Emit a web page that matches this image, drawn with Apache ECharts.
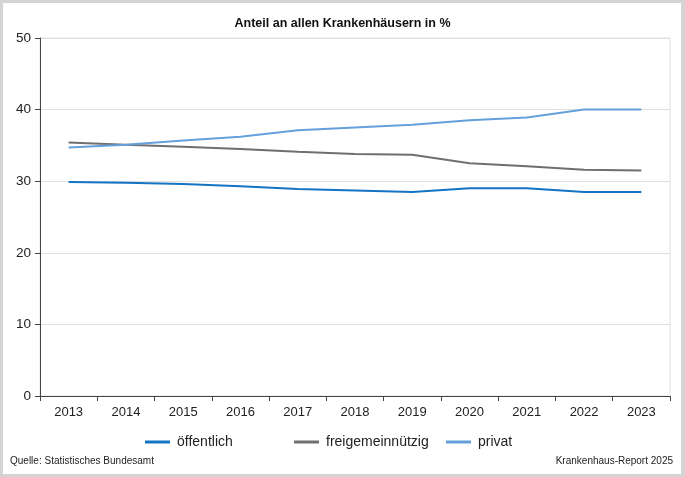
<!DOCTYPE html>
<html><head><meta charset="utf-8">
<script src="https://cdn.jsdelivr.net/npm/echarts@6/dist/echarts.min.js"></script>
<style>
html,body{margin:0;padding:0;background:#fff;}
#frame{position:absolute;left:0;top:0;width:685px;height:477px;box-sizing:border-box;border:3px solid #d4d4d4;border-right-width:4px;}
#c{position:absolute;left:0;top:0;width:685px;height:477px;}
</style></head>
<body>
<div id="frame"></div>
<div id="c"></div>
<script>
const years = ['2013','2014','2015','2016','2017','2018','2019','2020','2021','2022','2023'];
const oeffentlich = [29.9, 29.8, 29.6, 29.3, 28.9, 28.7, 28.5, 29.0, 29.0, 28.5, 28.5];
const freigemeinnuetzig = [35.4, 35.1, 34.8, 34.5, 34.1, 33.8, 33.7, 32.5, 32.1, 31.6, 31.5];
const privat = [34.7, 35.1, 35.7, 36.2, 37.1, 37.5, 37.9, 38.5, 38.9, 40.0, 40.0];
const seriesNames = ['öffentlich','freigemeinnützig','privat'];
const FONT = '"Liberation Sans Narrow","Liberation Sans",sans-serif';
const chart = echarts.init(document.getElementById('c'));
const mk = (name, data, color) => ({
  name, type:'line', data, symbol:'none', smooth:false,
  lineStyle:{color, width:2}, itemStyle:{color}
});
const leg = (name, left) => ({
  top:430, left, itemWidth:25, itemHeight:3, itemGap:0, icon:'rect',
  textStyle:{fontFamily:FONT, fontSize:14, color:'#222', padding:[0,0,0,2]},
  data:[name]
});
chart.setOption({
  animation:false,
  textStyle:{fontFamily:FONT},
  title:{text:'Anteil an allen Krankenhäusern in %', left:'center', top:12,
    textStyle:{fontFamily:FONT, fontSize:12.5, fontWeight:'bold', color:'#111'}},
  grid:{left:40, right:15, top:38, bottom:81, show:true, borderColor:'#e2e2e2', borderWidth:1, backgroundColor:'transparent'},
  xAxis:{type:'category', data:years, boundaryGap:true,
    axisLine:{lineStyle:{color:'#444', width:1}},
    axisTick:{show:true, length:5, lineStyle:{color:'#444'}},
    axisLabel:{fontFamily:FONT, fontSize:13, color:'#222', margin:10}},
  yAxis:{type:'value', min:0, max:50, interval:10,
    axisLine:{show:true, lineStyle:{color:'#444', width:1}},
    axisTick:{show:true, length:5, lineStyle:{color:'#444'}},
    splitLine:{lineStyle:{color:'#e0e0e0', width:1}},
    axisLabel:{fontFamily:FONT, fontSize:13.5, color:'#222', margin:9}},
  legend:[leg(seriesNames[0],140), leg(seriesNames[1],289), leg(seriesNames[2],441)],
  graphic:[
    {type:'text', left:10, top:456, style:{text:'Quelle: Statistisches Bundesamt', font:'10px '+FONT, fill:'#222'}},
    {type:'text', right:12, top:456, style:{text:'Krankenhaus-Report 2025', font:'10px '+FONT, fill:'#222'}}
  ],
  series:[
    mk(seriesNames[0], oeffentlich, '#1474c4'),
    mk(seriesNames[1], freigemeinnuetzig, '#6f6f6f'),
    mk(seriesNames[2], privat, '#64a0dc')
  ]
});
</script>
</body></html>
